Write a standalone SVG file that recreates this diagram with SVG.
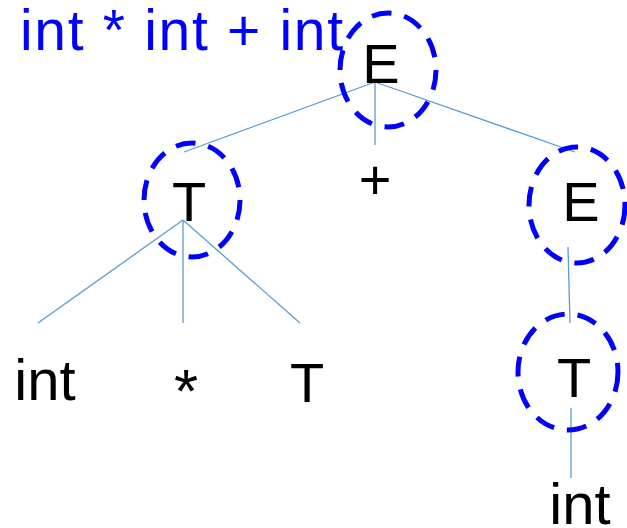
<svg xmlns="http://www.w3.org/2000/svg" width="627" height="528" viewBox="0 0 627 528">
<style>
.lbl{font-family:"Liberation Sans",Arial,sans-serif;font-size:56px;fill:#000;text-anchor:middle}
.ring{fill:none;stroke:#0000FF;stroke-width:5;stroke-dasharray:20 13}
.edge{stroke:#5B9BD5;stroke-width:1.3;fill:none}
.title{font-family:"Liberation Sans",Arial,sans-serif;font-size:57px;fill:#0000FF}
</style>
<rect width="627" height="528" fill="#fff"/>
<text class="title" x="20" y="50" textLength="323" lengthAdjust="spacing">int * int + int</text>
<g id="connectors">
<line class="edge" x1="375" y1="82" x2="184" y2="152"/>
<line class="edge" x1="375" y1="82" x2="575" y2="152"/>
<line class="edge" x1="375" y1="82" x2="375" y2="145"/>
<line class="edge" x1="183" y1="220" x2="38" y2="323"/>
<line class="edge" x1="183" y1="220" x2="183" y2="323"/>
<line class="edge" x1="183" y1="220" x2="300" y2="323"/>
<line class="edge" x1="568" y1="247" x2="570" y2="323"/>
<line class="edge" x1="571" y1="408" x2="571" y2="478"/>
</g>
<g id="n-E-root"><ellipse class="ring" cx="388" cy="70" rx="48" ry="57"/><text class="lbl" x="381" y="83">E</text></g>
<g id="n-plus"><text class="lbl" x="375" y="199">+</text></g>
<g id="n-T-left"><ellipse class="ring" cx="192" cy="200" rx="48" ry="57"/><text class="lbl" x="189" y="221">T</text></g>
<g id="n-E-right"><ellipse class="ring" cx="577" cy="205" rx="48" ry="58"/><text class="lbl" x="581" y="221">E</text></g>
<g id="n-int1"><text class="lbl" x="45" y="400" style="font-size:58px">int</text></g>
<g id="n-star"><text class="lbl" x="186" y="412" style="font-size:62px">*</text></g>
<g id="n-T-mid"><text class="lbl" x="307" y="402">T</text></g>
<g id="n-T-right"><ellipse class="ring" cx="568" cy="372" rx="50" ry="58"/><text class="lbl" x="574" y="397">T</text></g>
<g id="n-int2"><text class="lbl" x="580" y="524" style="font-size:58px">int</text></g>
</svg>
